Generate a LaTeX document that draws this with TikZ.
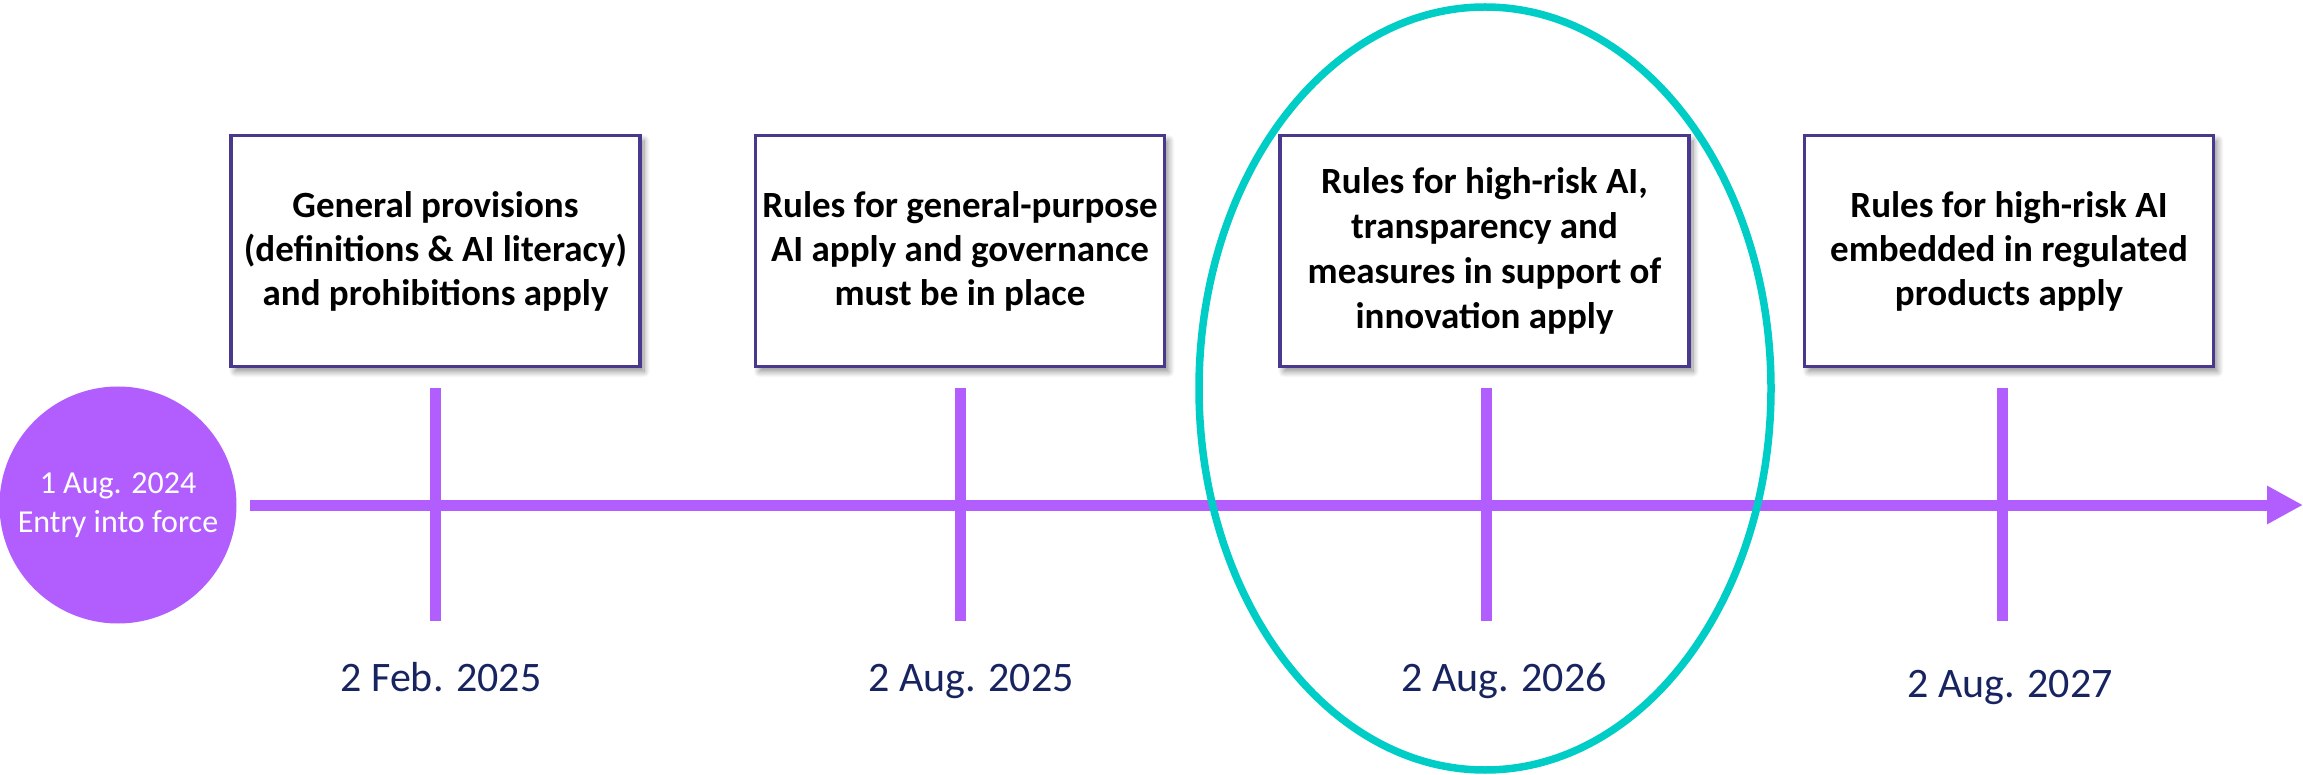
\documentclass[tikz,border=0pt]{standalone}
\usepackage{fontspec}
\setmainfont{Carlito}
\usetikzlibrary{arrows.meta,shadows.blur}
\definecolor{tlpurple}{RGB}{178,94,255}
\definecolor{boxborder}{RGB}{74,56,140}
\definecolor{datenavy}{RGB}{24,36,96}
\definecolor{ringteal}{RGB}{0,206,198}
\tikzset{
  eventbox/.style={draw=boxborder, line width=3.5pt, fill=white, minimum width=409pt, minimum height=231pt,
    inner sep=0pt, align=center, font=\fontsize{37}{44}\selectfont\bfseries,
    blur shadow={shadow xshift=4pt, shadow yshift=-5pt, shadow blur radius=6pt, shadow blur steps=10, shadow opacity=45}},
  tick/.style={draw=tlpurple, line width=11pt},
  timeline/.style={draw=tlpurple, line width=11pt, -{Triangle[length=36pt,width=36pt]}},
  datelabel/.style={anchor=base, text=datenavy, font=\fontsize{42}{50}\selectfont, inner sep=0pt},
  startdot/.style={circle, fill=tlpurple, minimum size=237pt, inner sep=0pt, text=white, align=center,
    font=\fontsize{32}{39}\selectfont},
  ring/.style={draw=ringteal, line width=7.5pt}
}
\begin{document}
\begin{tikzpicture}[x=1pt,y=-1pt]
\useasboundingbox (0,0) rectangle (2303,775);
% start circle
\node[startdot] (start) at (118,505) {1 Aug. 2024\\Entry into force};
% timeline
\coordinate (tlstart) at (250,505);
\coordinate (tlend) at (2303,505);
\draw[timeline] (tlstart) -- (tlend);
% ticks
\foreach \n/\x in {a/435.5,b/960,c/1486,d/2002}{
  \coordinate (\n top) at (\x,388);
  \coordinate (\n bot) at (\x,621);
  \draw[tick] (\n top) -- (\n bot);
}
% boxes
\node[eventbox] (b1) at (435.5,251) {General provisions\\(definitions \& AI literacy)\\and prohibitions apply};
\node[eventbox] (b2) at (960,251) {Rules for general-purpose\\AI apply and governance\\must be in place};
\node[eventbox, font=\fontsize{37}{45}\selectfont\bfseries] (b3) at (1484.5,251) {Rules for high-risk AI,\\transparency and\\measures in support of\\innovation apply};
\node[eventbox] (b4) at (2009,251) {Rules for high-risk AI\\embedded in regulated\\products apply};
% dates
\node[datelabel] (d1) at (441,691) {2 Feb. 2025};
\node[datelabel] (d2) at (971,691) {2 Aug. 2025};
\node[datelabel] (d3) at (1504,691) {2 Aug. 2026};
\node[datelabel] (d4) at (2010,697) {2 Aug. 2027};
% highlight ring
\draw[ring] (1485,388.5) ellipse [x radius=286pt, y radius=381.5pt];
\end{tikzpicture}
\end{document}
